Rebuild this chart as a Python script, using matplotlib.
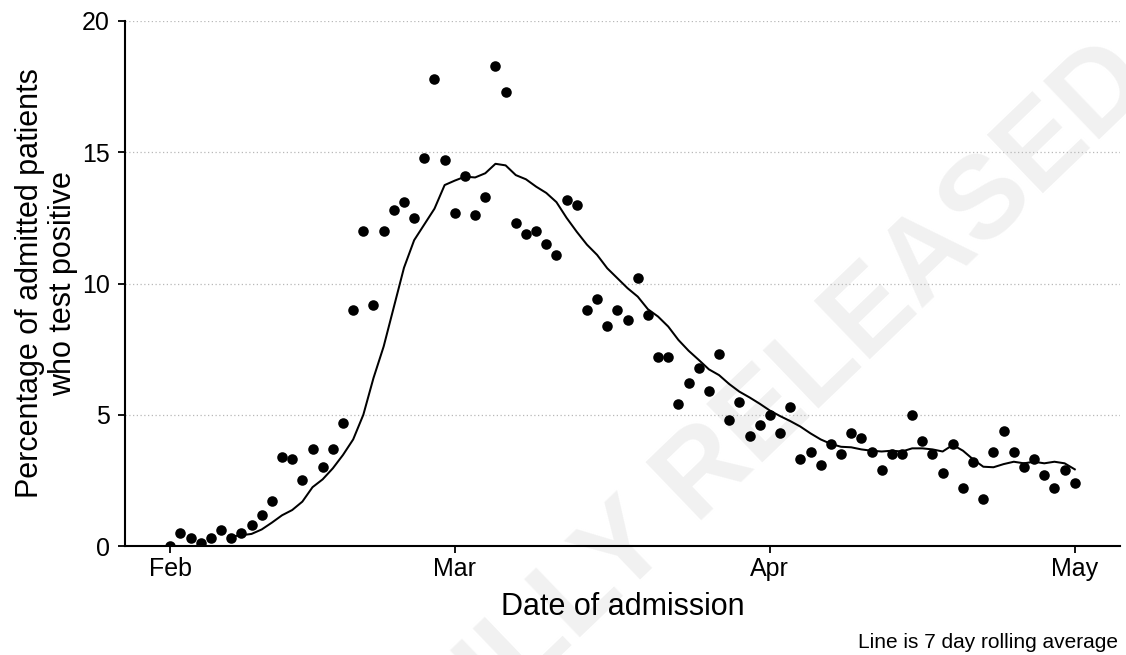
import matplotlib
matplotlib.use("Agg")
import matplotlib.pyplot as plt
import matplotlib.dates as mdates
import numpy as np
import pandas as pd

plt.rcParams['font.family'] = ['Liberation Sans', 'DejaVu Sans']

# daily percentage positive, 1 Feb .. 1 May
dates = pd.date_range("2021-02-01", "2021-05-01", freq="D")
pct_positive = [
    0.0, 0.5, 0.3, 0.1, 0.3, 0.6, 0.3, 0.5, 0.8, 1.2,
    1.7, 3.4, 3.3, 2.5, 3.7, 3.0, 3.7, 4.7, 9.0, 12.0,
    9.2, 12.0, 12.8, 13.1, 12.5, 14.8, 17.8, 14.7, 12.7, 14.1,
    12.6, 13.3, 18.3, 17.3, 12.3, 11.9, 12.0, 11.5, 11.1, 13.2,
    13.0, 9.0, 9.4, 8.4, 9.0, 8.6, 10.2, 8.8, 7.2, 7.2,
    5.4, 6.2, 6.8, 5.9, 7.3, 4.8, 5.5, 4.2, 4.6, 5.0,
    4.3, 5.3, 3.3, 3.6, 3.1, 3.9, 3.5, 4.3, 4.1, 3.6,
    2.9, 3.5, 3.5, 5.0, 4.0, 3.5, 2.8, 3.9, 2.2, 3.2,
    1.8, 3.6, 4.4, 3.6, 3.0, 3.3, 2.7, 2.2, 2.9, 2.4,
]

# 7 day rolling average line (starts on day 7)
rolling_avg = [
    0.36, 0.41, 0.46, 0.63, 0.89, 1.17, 1.37, 1.69, 2.24, 2.54,
    2.96, 3.47, 4.06, 5.0, 6.4, 7.6, 9.1, 10.6, 11.65, 12.25,
    12.85, 13.75, 13.92, 14.07, 14.04, 14.2, 14.56, 14.5, 14.13, 13.97,
    13.69, 13.45, 13.1, 12.5, 11.97, 11.48, 11.09, 10.58, 10.2, 9.82,
    9.5, 9.02, 8.74, 8.36, 7.85, 7.44, 7.09, 6.73, 6.51, 6.17,
    5.88, 5.66, 5.42, 5.16, 4.95, 4.76, 4.55, 4.29, 4.06, 3.89,
    3.78, 3.76, 3.68, 3.63, 3.6, 3.63, 3.6, 3.72, 3.72, 3.68,
    3.6, 3.85, 3.63, 3.3, 3.02, 3.0, 3.12, 3.21, 3.15, 3.21,
    3.15, 3.21, 3.15, 2.92,
]
line_dates = dates[6:]

fig = plt.figure(figsize=(11.26, 6.55), dpi=100)
ax = fig.add_axes([125 / 1126, 1 - 546 / 655, 995 / 1126, 525 / 655])
ax.set_facecolor('none')

# watermark
fig.text(1.026, 0.869, "FULLY RELEASED", rotation=43.8,
         rotation_mode='anchor', ha='right', va='baseline',
         fontsize=84, fontweight='bold', color='#f1f1f1', zorder=-5)

ax.yaxis.grid(True, linestyle=(0, (1, 2)), color='#b8b8b8', linewidth=0.9)
ax.set_axisbelow(True)

ax.plot(dates, pct_positive, 'o', color='black', markersize=7.6,
        markeredgewidth=0, zorder=3)
ax.plot(line_dates, rolling_avg, '-', color='black', linewidth=1.45, zorder=4)

span = (dates[-1] - dates[0]) * 0.05
ax.set_xlim(dates[0] - span, dates[-1] + span)
ax.set_ylim(0, 20)
ax.set_yticks([0, 5, 10, 15, 20])
ax.xaxis.set_major_locator(mdates.MonthLocator())
ax.xaxis.set_major_formatter(mdates.DateFormatter('%b'))

for s in ['top', 'right']:
    ax.spines[s].set_visible(False)
for s in ['left', 'bottom']:
    ax.spines[s].set_linewidth(1.5)
ax.tick_params(axis='both', labelsize=18, width=1.3, length=5, color='black')
ax.tick_params(axis='x', pad=3)
ax.tick_params(axis='y', pad=6)

ax.set_xlabel("Date of admission", fontsize=22, labelpad=8)
ax.set_ylabel("Percentage of admitted patients\nwho test positive",
              fontsize=22, labelpad=3, linespacing=1.1)

fig.text(1118 / 1126, 1 - 648 / 655, "Line is 7 day rolling average",
         ha='right', va='baseline', fontsize=15)

fig.savefig("out.png", dpi=100)
